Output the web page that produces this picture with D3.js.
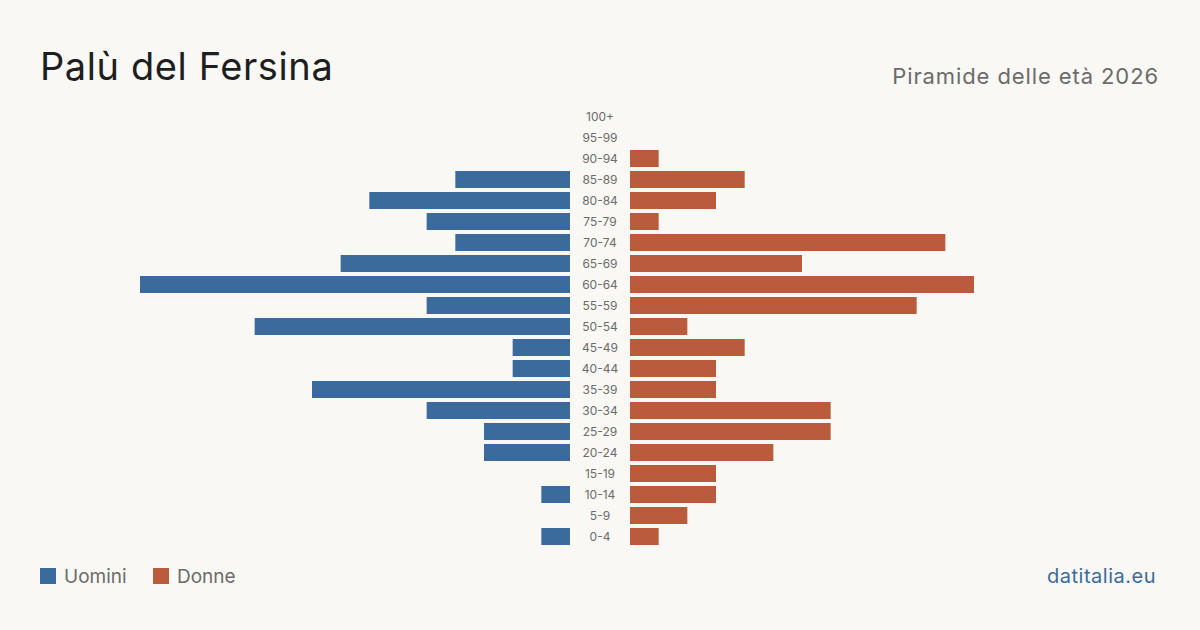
<!DOCTYPE html>
<html>
<head>
<meta charset="utf-8">
<script src="https://cdn.jsdelivr.net/npm/d3@7"></script>
<style>
  html, body { margin: 0; padding: 0; background: #f9f8f4; }
  svg { display: block; font-family: Inter, "Noto Sans", sans-serif; }
</style>
</head>
<body>
<svg id="chart" width="1200" height="630"></svg>
<script>
// Piramide delle età — Palù del Fersina

const ageGroups = ["100+", "95-99", "90-94", "85-89", "80-84", "75-79", "70-74", "65-69",
    "60-64", "55-59", "50-54", "45-49", "40-44", "35-39", "30-34", "25-29", "20-24",
    "15-19", "10-14", "5-9", "0-4"];
const uomini = [0, 0, 0, 4, 7, 5, 4, 8, 15, 5, 11, 2, 2, 9, 5, 3, 3, 0, 1, 0, 1];
const donne  = [0, 0, 1, 4, 3, 1, 11, 6, 12, 10, 2, 4, 3, 3, 7, 7, 5, 3, 3, 2, 1];

const colors = { uomini: "#3b6b9c", donne: "#ba5c3c" };

const svg = d3.select("#chart");
svg.append("rect").attr("width", 1200).attr("height", 630).attr("fill", "#f9f8f4");

// ---- scale ----
const centerL = 570, centerR = 630, half = 430;
const maxVal = d3.max([...uomini, ...donne]);
const x = d3.scaleLinear().domain([0, maxVal]).range([0, half]);
const y = d3.scaleBand().domain(ageGroups).range([106, 547]).paddingInner(0.19).paddingOuter(0.095);

const rows = ageGroups.map((g, i) => ({ g, m: uomini[i], f: donne[i] }));

svg.selectAll(".bar-m")
    .data(rows.filter(d => d.m > 0)).enter().append("rect")
    .attr("x", d => centerL - x(d.m))
    .attr("y", d => y(d.g))
    .attr("width", d => x(d.m))
    .attr("height", y.bandwidth())
    .attr("fill", colors.uomini);

svg.selectAll(".bar-f")
    .data(rows.filter(d => d.f > 0)).enter().append("rect")
    .attr("x", centerR)
    .attr("y", d => y(d.g))
    .attr("width", d => x(d.f))
    .attr("height", y.bandwidth())
    .attr("fill", colors.donne);

svg.selectAll(".age")
    .data(rows).enter().append("text")
    .attr("x", (centerL + centerR) / 2)
    .attr("y", d => y(d.g) + y.bandwidth() / 2)
    .attr("dy", "0.35em")
    .attr("text-anchor", "middle")
    .attr("font-size", 12)
    .attr("fill", "#6b6b6b")
    .text(d => d.g);

// ---- titoli ----
svg.append("text")
    .attr("x", 40).attr("y", 80)
    .attr("font-size", 38).attr("fill", "#1e1e1e")
    .attr("letter-spacing", 0.6)
    .text("Palù del Fersina");

svg.append("text")
    .attr("x", 1159).attr("y", 84)
    .attr("text-anchor", "end")
    .attr("font-size", 22).attr("fill", "#6b6b6b")
    .attr("letter-spacing", 0.9)
    .text("Piramide delle età 2026");

// ---- legenda ----
const legend = [{ label: "Uomini", color: colors.uomini, x: 40 }, { label: "Donne", color: colors.donne, x: 153 }];
const lg = svg.selectAll(".legend").data(legend).enter().append("g")
    .attr("transform", d => `translate(${d.x},568)`);
lg.append("rect").attr("width", 16).attr("height", 16).attr("fill", d => d.color);
lg.append("text")
    .attr("x", 24).attr("y", 8).attr("dy", "0.35em")
    .attr("font-size", 19).attr("fill", "#6b6b6b")
    .text(d => d.label);

svg.append("text")
    .attr("x", 1156).attr("y", 583)
    .attr("text-anchor", "end")
    .attr("font-size", 20).attr("fill", "#3b6b9c")
    .attr("letter-spacing", 0.5)
    .text("datitalia.eu");
</script>
</body>
</html>
